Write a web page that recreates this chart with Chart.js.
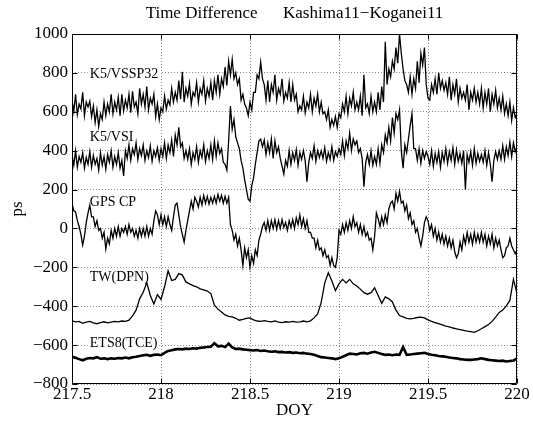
<!DOCTYPE html>
<html><head><meta charset="utf-8">
<script src="https://cdn.jsdelivr.net/npm/chart.js@4"></script>
<style>html,body{margin:0;padding:0;background:#fff}</style>
</head><body>
<canvas id="c" width="533" height="424"></canvas>
<script>
// ---- data ----
const titleText = 'Time Difference      Kashima11\u2212Koganei11';
const xLabel = 'DOY';
const yLabel = 'ps';
const xStart = 217.5, xEnd = 220;
const xTicks = [217.5, 218, 218.5, 219, 219.5, 220];
const yTicks = [-800, -600, -400, -200, 0, 200, 400, 600, 800, 1000];
const seriesNames = ['K5/VSSP32', 'K5/VSI', 'GPS CP', 'TW(DPN)', 'ETS8(TCE)'];

// samples evenly spaced from DOY 217.5 to 220 (0.01 day)
const vssp32 = [
 660,600,690,585,640,615,700,580,650,625,
 655,575,630,545,610,525,590,560,650,580,
 640,600,690,590,650,610,675,580,690,605,
 660,620,690,595,705,625,650,590,720,640,
 690,625,730,610,670,640,690,575,640,560,
 620,600,680,615,660,635,720,650,700,660,
 760,665,805,650,720,680,745,640,700,680,
 750,650,720,690,760,655,720,680,750,660,
 760,700,790,690,770,730,830,735,860,790,
 870,770,800,740,770,660,690,640,620,580,
 650,610,700,700,790,770,855,770,740,660,
 760,650,740,700,790,660,720,690,770,655,
 700,670,750,650,740,660,690,600,630,610,
 680,595,650,620,690,600,670,630,690,600,
 650,590,600,560,610,520,560,530,575,520,
 590,570,640,600,680,590,670,630,700,610,
 650,610,680,580,790,620,640,590,680,600,
 650,600,700,610,730,650,960,740,820,780,
 860,820,930,850,1000,900,820,760,740,700,
 780,690,770,720,860,750,900,840,930,740,
 670,660,740,700,770,690,800,720,760,710,
 750,690,780,660,740,690,770,650,720,670,
 700,660,740,610,700,660,720,650,700,640,
 720,620,700,640,720,600,690,640,710,620,
 670,610,680,590,640,580,650,555,620,570,590
];
const vsi = [
 380,325,400,315,370,340,390,310,365,330,
 395,315,375,330,360,300,390,325,370,305,
 380,340,400,315,370,330,390,310,350,270,
 400,360,430,350,410,380,440,355,410,375,
 430,350,400,365,425,345,400,370,415,350,
 410,370,440,360,430,390,455,370,480,430,
 520,420,440,360,400,355,410,330,390,355,
 420,340,400,365,430,345,400,360,430,355,
 450,370,440,385,410,340,330,300,450,630,
 510,560,470,440,410,350,310,250,200,150,
 140,220,260,330,390,450,460,420,455,380,
 440,390,460,360,450,390,420,360,320,280,
 350,320,400,330,390,350,405,325,390,355,
 400,350,240,340,390,360,425,345,400,365,
 400,360,415,345,390,355,420,350,395,370,
 410,380,450,375,450,410,490,400,460,430,
 450,390,410,360,215,340,380,330,400,325,
 370,330,410,335,430,390,480,440,520,450,
 570,490,590,560,610,400,310,430,390,460,
 530,590,410,410,350,410,335,400,360,395,
 370,330,400,320,385,340,395,315,390,345,
 410,335,395,350,415,330,405,345,385,335,
 400,200,380,340,395,325,410,335,385,345,
 380,340,400,325,390,330,240,350,395,355,
 400,355,425,355,420,375,445,370,440,395,420
];
const gpsCP = [
 130,90,85,40,10,-30,-85,-40,30,80,
 120,60,60,10,40,-10,0,-50,-20,-105,
 -50,-80,-10,-50,0,-40,10,-40,0,-20,
 10,-30,20,-20,0,-40,-10,-50,0,-40,
 0,-40,10,-40,0,-30,40,90,70,20,
 70,20,60,10,60,20,-10,60,120,130,
 70,10,-30,-70,-10,40,90,140,100,160,
 140,110,160,120,170,130,165,125,160,130,
 165,130,175,140,170,130,165,130,160,20,
 -10,-60,-30,-90,-50,-110,-190,-100,-150,-110,
 -200,-140,-180,-110,-140,-60,-30,10,30,-10,
 40,-10,40,0,45,-5,40,0,45,5,
 30,-10,40,5,45,0,55,20,70,10,
 50,0,40,-20,-20,-50,-50,-100,-60,-110,
 -100,-140,-110,-150,-140,-190,-150,-190,-200,-150,
 -10,-30,20,-20,30,-10,40,0,60,10,
 30,-20,20,-30,10,-40,-20,-60,-50,-110,
 -40,80,50,10,60,20,70,30,100,130,
 140,100,180,140,190,130,140,90,120,50,
 80,20,40,-20,0,-50,-90,-40,30,60,
 40,-10,20,-40,0,-60,-20,-70,-30,-80,
 -40,-90,-50,-100,-60,-120,-150,-130,-70,-110,
 -40,-80,-20,-70,-30,-80,-20,-70,-30,-70,
 -20,-70,-30,-90,-40,-80,-30,-100,-50,-90,
 -60,-110,-150,-140,-100,-90,-50,-90,-110,-130,-110
];
// samples evenly spaced from DOY 217.5 to 220 (0.02 day)
const twDPN = [
 -475,-480,-478,-488,-482,-478,-486,-490,-484,-480,
 -486,-482,-478,-480,-476,-478,-472,-450,-420,-362,
 -328,-280,-345,-388,-340,-365,-300,-218,-268,-262,
 -232,-240,-275,-285,-294,-300,-311,-316,-322,-335,
 -395,-415,-430,-445,-452,-455,-462,-472,-468,-462,
 -460,-470,-476,-478,-474,-478,-480,-476,-482,-484,
 -480,-482,-478,-482,-480,-476,-480,-475,-460,-440,
 -380,-280,-228,-270,-320,-285,-262,-280,-262,-285,
 -296,-312,-330,-338,-330,-305,-345,-385,-352,-362,
 -378,-420,-448,-455,-462,-465,-463,-458,-456,-460,
 -470,-478,-484,-490,-496,-502,-506,-512,-516,-520,
 -524,-528,-531,-534,-526,-516,-505,-494,-478,-456,
 -432,-420,-398,-370,-262,-335
];
const ets8TCE = [
 -660,-665,-672,-678,-670,-666,-668,-662,-670,-668,
 -672,-668,-670,-666,-668,-664,-668,-662,-660,-656,
 -652,-650,-655,-650,-648,-652,-640,-630,-626,-622,
 -620,-622,-618,-620,-616,-618,-614,-612,-610,-608,
 -590,-606,-604,-610,-592,-612,-620,-618,-622,-624,
 -626,-628,-625,-630,-628,-632,-634,-632,-636,-635,
 -638,-636,-640,-638,-642,-640,-644,-646,-650,-656,
 -662,-664,-666,-668,-672,-668,-660,-652,-644,-646,
 -648,-642,-640,-644,-638,-634,-640,-646,-650,-648,
 -652,-648,-650,-610,-650,-648,-646,-644,-642,-640,
 -646,-650,-652,-656,-658,-660,-664,-666,-668,-672,
 -674,-676,-676,-674,-672,-668,-672,-676,-678,-680,
 -682,-680,-684,-682,-680,-668
];

// ---- presentation ----
const serif = '"Liberation Serif", "Times New Roman", Times, serif';
const labelPos = [[217.6, 795], [217.6, 470], [217.6, 136], [217.6, -250], [217.6, -590]];
const lineWidths = [1.3, 1.3, 1.3, 1.3, 2.6];
const allSeries = [vssp32, vsi, gpsCP, twDPN, ets8TCE];

function toPoints(arr) {
  const step = (xEnd - xStart) / (arr.length - 1);
  return arr.map((v, i) => ({x: xStart + i * step, y: v}));
}
function fmtY(v) { return v < 0 ? '\u2212' + Math.abs(v) : String(v); }

const decor = {
  id: 'decor',
  beforeDatasetsDraw(chart) {
    const {ctx, scales: {x, y}} = chart;
    ctx.save();
    ctx.font = '14px ' + serif;
    ctx.textBaseline = 'middle';
    ctx.textAlign = 'left';
    seriesNames.forEach((name, i) => {
      const px = x.getPixelForValue(labelPos[i][0]);
      const py = y.getPixelForValue(labelPos[i][1]);
      const w = ctx.measureText(name).width;
      ctx.fillStyle = '#fff';
      ctx.fillRect(px - 2, py - 7, w + 4, 14);
      ctx.fillStyle = '#000';
      ctx.fillText(name, px, py);
    });
    ctx.restore();
  },
  afterDraw(chart) {
    const {ctx, chartArea: a, scales: {x, y}} = chart;
    ctx.save();
    ctx.strokeStyle = '#000';
    ctx.lineWidth = 1;
    ctx.setLineDash([]);
    ctx.beginPath();
    const L = Math.round(a.left) + 0.5, R = Math.round(a.right) - 0.5;
    const T = Math.round(a.top) + 0.5, B = Math.round(a.bottom) - 0.5;
    ctx.rect(L, T, R - L, B - T);
    const tl = 5;
    xTicks.forEach(v => {
      const px = Math.round(x.getPixelForValue(v)) + 0.5;
      ctx.moveTo(px, B); ctx.lineTo(px, B - tl);
      ctx.moveTo(px, T); ctx.lineTo(px, T + tl);
    });
    yTicks.forEach(v => {
      const py = Math.round(y.getPixelForValue(v)) + 0.5;
      ctx.moveTo(L, py); ctx.lineTo(L + tl, py);
      ctx.moveTo(R, py); ctx.lineTo(R - tl, py);
    });
    ctx.stroke();
    ctx.restore();
  }
};

new Chart(document.getElementById('c'), {
  type: 'line',
  data: {
    datasets: allSeries.map((arr, i) => ({
      label: seriesNames[i],
      data: toPoints(arr),
      borderColor: '#000',
      borderWidth: lineWidths[i],
      pointRadius: 0,
      tension: 0,
      fill: false
    }))
  },
  options: {
    responsive: false,
    animation: false,
    devicePixelRatio: 1,
    layout: {padding: {left: 0, right: 16, top: 0, bottom: 0}},
    plugins: {
      legend: {display: false},
      tooltip: {enabled: false},
      title: {
        display: true, text: titleText, color: '#000', fullSize: false,
        font: {family: serif, size: 17, weight: 'normal', lineHeight: 1.2},
        padding: {top: 3, bottom: 10.6}
      }
    },
    scales: {
      x: {
        type: 'linear', min: xStart, max: xEnd,
        afterBuildTicks: s => { s.ticks = xTicks.map(v => ({value: v})); },
        afterFit: s => { s.height = 40; },
        grid: {color: '#8a8a8a', lineWidth: 1, drawTicks: false},
        border: {display: false, dash: [1, 2]},
        ticks: {color: '#000', font: {family: serif, size: 17}, padding: 0, maxRotation: 0, autoSkip: false,
                callback: v => String(v)},
        title: {display: true, text: xLabel, color: '#000', font: {family: serif, size: 17}, padding: {top: 0, bottom: 3}}
      },
      y: {
        type: 'linear', min: -800, max: 1000,
        afterBuildTicks: s => { s.ticks = yTicks.map(v => ({value: v})); },
        afterFit: s => { s.width = 72; },
        grid: {color: '#8a8a8a', lineWidth: 1, drawTicks: false},
        border: {display: false, dash: [1, 2]},
        ticks: {color: '#000', font: {family: serif, size: 17}, padding: 4, autoSkip: false, callback: v => fmtY(v)},
        title: {display: true, text: yLabel, color: '#000', font: {family: serif, size: 17}, padding: {top: 7, bottom: 0}}
      }
    }
  },
  plugins: [decor]
});
</script>
</body></html>
